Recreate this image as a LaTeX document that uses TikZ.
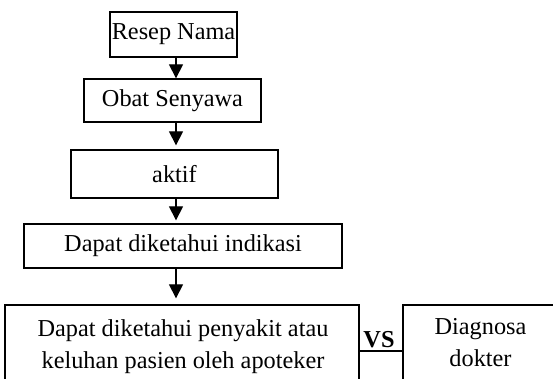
\documentclass[tikz,border=0pt]{standalone}
\usepackage{fontspec}
\setmainfont{Liberation Serif}
\usetikzlibrary{arrows.meta}
\begin{document}
\begin{tikzpicture}[x=1pt,y=1pt,
  box/.style={draw=black, line width=1.3pt, inner sep=0pt, align=center,
    font=\fontsize{24.3}{31.6}\selectfont},
  lbl/.style={inner sep=0pt, anchor=base, align=center,
    font=\fontsize{24.3}{31.6}\selectfont},
  arr/.style={line width=1.2pt, -{Triangle[length=14pt,width=14pt]}}]
\useasboundingbox (0,0) rectangle (553,-379);
\clip (0,0) rectangle (553,-379);
% boxes
\node[box, minimum width=127, minimum height=45] (b1) at (173.5,-34.5) {Resep Nama};
\node[box, minimum width=177, minimum height=43] (b2) at (172.5,-100.5) {Obat Senyawa};
\node[box, minimum width=207, minimum height=48] (b3) at (174.5,-174) {aktif};
\node[box, minimum width=318, minimum height=44] (b4) at (183,-246) {Dapat diketahui indikasi};
\node[box, minimum width=354, minimum height=92] (b5) at (182,-351) {};
\node[box, minimum width=160, minimum height=92] (b6) at (483,-351) {};
% bottom texts
\node[lbl] (t5) at (183,-368) {Dapat diketahui penyakit atau\\keluhan pasien oleh apoteker};
\node[lbl] (t6) at (480.5,-366) {Diagnosa\\dokter};
\node[lbl, font=\fontsize{24.3}{28}\selectfont\bfseries] (vs) at (379,-347) {VS};
% arrows
\coordinate (ax) at (176,0);
\draw[arr] (b1.south -| ax) -- (b2.north -| ax);
\draw[arr, shorten >=4pt] (b2.south -| ax) -- (b3.north -| ax);
\draw[arr, shorten >=3pt] (b3.south -| ax) -- (b4.north -| ax);
\draw[arr, shorten >=6pt] (b4.south -| ax) -- (b5.north -| ax);
% connector
\draw[line width=1.3pt] (b5.east) -- (b6.west);
\end{tikzpicture}
\end{document}
